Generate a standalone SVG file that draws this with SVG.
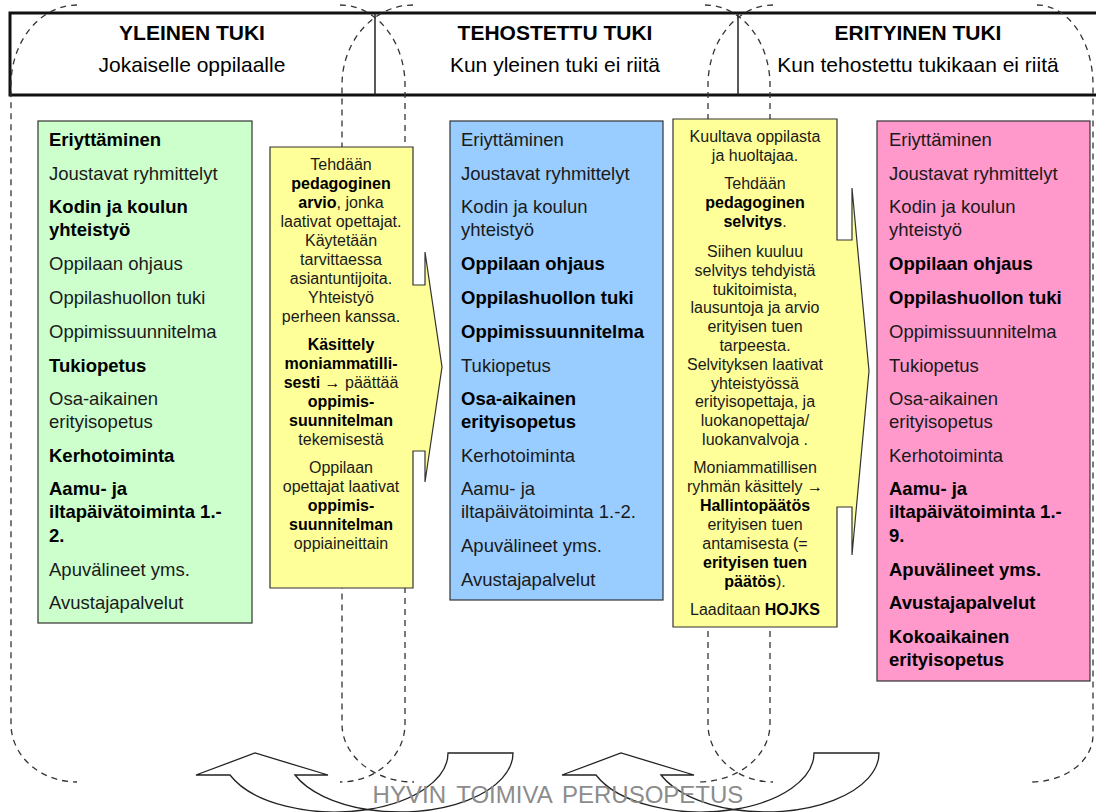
<svg xmlns="http://www.w3.org/2000/svg" width="1096" height="812" viewBox="0 0 1096 812">
<style>
text{font-family:"Liberation Sans",Arial,sans-serif;fill:#1a1a1a}
.h{font-size:21px;text-anchor:middle;fill:#000}
.hb{font-weight:bold}
.l{font-size:18.5px}
.b{font-weight:bold;fill:#000}
.y{font-size:16px;text-anchor:middle}
.dash{fill:none;stroke:#333;stroke-width:1.3;stroke-dasharray:6 5}
.box{stroke:#333;stroke-width:1.2}
.arr{fill:#fff;stroke:#222;stroke-width:1.3;stroke-linejoin:miter}
</style>
<rect x="0" y="0" width="1096" height="812" fill="#fff"/>

<g id="header">
  <rect x="10" y="13" width="1100" height="82" fill="#fff" stroke="#111" stroke-width="3"/>
  <line x1="375" y1="13" x2="375" y2="95" stroke="#222" stroke-width="1.5"/>
  <line x1="738" y1="13" x2="738" y2="95" stroke="#222" stroke-width="1.5"/>
  <text class="h hb" x="192" y="40">YLEINEN TUKI</text>
  <text class="h" x="192" y="72">Jokaiselle oppilaalle</text>
  <text class="h hb" x="555" y="40">TEHOSTETTU TUKI</text>
  <text class="h" x="555" y="72">Kun yleinen tuki ei riitä</text>
  <text class="h hb" x="918" y="40">ERITYINEN TUKI</text>
  <text class="h" x="918" y="72">Kun tehostettu tukikaan ei riitä</text>
</g>

<g id="frames">
  <path class="dash" d="M77,5 A66,80 0 0 0 11,85 L11,724 A66,58 0 0 0 77,782"/>
  <path class="dash" d="M340,5 A65,80 0 0 1 405,85 L405,724 A65,58 0 0 1 340,782"/>
  <path class="dash" d="M413,5 A71,80 0 0 0 342,85 L342,724 A72,58 0 0 0 414,782"/>
  <path class="dash" d="M705,5 A65,80 0 0 1 770,85 L770,724 A72,58 0 0 1 698,782"/>
  <path class="dash" d="M773,5 A65,80 0 0 0 708,85 L708,724 A65,58 0 0 0 773,782"/>
  <path class="dash" d="M1037,5 A56,80 0 0 1 1093,85 L1093,735 A62,47 0 0 1 1031,782"/>
</g>

<g id="yleinen">
  <rect class="box" x="38" y="121" width="214" height="502" fill="#ccffcc"/>
  <text class="l b" x="49" y="146">Eriyttäminen</text>
  <text class="l" x="49" y="180">Joustavat ryhmittelyt</text>
  <text class="l b" x="49" y="213">Kodin ja koulun</text>
  <text class="l b" x="49" y="236">yhteistyö</text>
  <text class="l" x="49" y="270">Oppilaan ohjaus</text>
  <text class="l" x="49" y="304">Oppilashuollon tuki</text>
  <text class="l" x="49" y="338">Oppimissuunnitelma</text>
  <text class="l b" x="49" y="372">Tukiopetus</text>
  <text class="l" x="49" y="405">Osa-aikainen</text>
  <text class="l" x="49" y="428">erityisopetus</text>
  <text class="l b" x="49" y="462">Kerhotoiminta</text>
  <text class="l b" x="49" y="495">Aamu- ja</text>
  <text class="l b" x="49" y="518">iltapäivätoiminta 1.-</text>
  <text class="l b" x="49" y="542">2.</text>
  <text class="l" x="49" y="576">Apuvälineet yms.</text>
  <text class="l" x="49" y="609">Avustajapalvelut</text>
</g>

<g id="arvio">
  <polygon class="box" fill="#ffff99" points="270,147 413,147 413,285 425,285 425,252 442,367 425,482 425,451 413,451 413,588 270,588"/>
  <text class="y" x="341" y="170">Tehdään</text>
  <text class="y b" x="341" y="189">pedagoginen</text>
  <text class="y" x="341" y="208"><tspan class="b">arvio</tspan>, jonka</text>
  <text class="y" x="341" y="227">laativat opettajat.</text>
  <text class="y" x="341" y="246">Käytetään</text>
  <text class="y" x="341" y="265">tarvittaessa</text>
  <text class="y" x="341" y="284">asiantuntijoita.</text>
  <text class="y" x="341" y="303">Yhteistyö</text>
  <text class="y" x="341" y="322">perheen kanssa.</text>
  <text class="y b" x="341" y="350">Käsittely</text>
  <text class="y b" x="341" y="369">moniammatilli-</text>
  <text class="y" x="341" y="388"><tspan class="b">sesti →</tspan> päättää</text>
  <text class="y b" x="341" y="407">oppimis-</text>
  <text class="y b" x="341" y="426">suunnitelman</text>
  <text class="y" x="341" y="445">tekemisestä</text>
  <text class="y" x="341" y="473">Oppilaan</text>
  <text class="y" x="341" y="492">opettajat laativat</text>
  <text class="y b" x="341" y="511">oppimis-</text>
  <text class="y b" x="341" y="530">suunnitelman</text>
  <text class="y" x="341" y="549">oppiaineittain</text>
</g>

<g id="tehostettu">
  <rect class="box" x="450" y="121" width="213" height="479" fill="#99ccff"/>
  <text class="l" x="461" y="146">Eriyttäminen</text>
  <text class="l" x="461" y="180">Joustavat ryhmittelyt</text>
  <text class="l" x="461" y="213">Kodin ja koulun</text>
  <text class="l" x="461" y="236">yhteistyö</text>
  <text class="l b" x="461" y="270">Oppilaan ohjaus</text>
  <text class="l b" x="461" y="304">Oppilashuollon tuki</text>
  <text class="l b" x="461" y="338">Oppimissuunnitelma</text>
  <text class="l" x="461" y="372">Tukiopetus</text>
  <text class="l b" x="461" y="405">Osa-aikainen</text>
  <text class="l b" x="461" y="428">erityisopetus</text>
  <text class="l" x="461" y="462">Kerhotoiminta</text>
  <text class="l" x="461" y="495">Aamu- ja</text>
  <text class="l" x="461" y="518">iltapäivätoiminta 1.-2.</text>
  <text class="l" x="461" y="552">Apuvälineet yms.</text>
  <text class="l" x="461" y="586">Avustajapalvelut</text>
</g>

<g id="selvitys">
  <polygon class="box" fill="#ffff99" points="673,119 837,119 837,240 852,240 852,188 869,371 852,555 852,507 837,507 837,627 673,627"/>
  <text class="y" x="755" y="142">Kuultava oppilasta</text>
  <text class="y" x="755" y="161">ja huoltajaa.</text>
  <text class="y" x="755" y="189">Tehdään</text>
  <text class="y b" x="755" y="208">pedagoginen</text>
  <text class="y" x="755" y="227"><tspan class="b">selvitys</tspan>.</text>
  <text class="y" x="755" y="257">Siihen kuuluu</text>
  <text class="y" x="755" y="276">selvitys tehdyistä</text>
  <text class="y" x="755" y="295">tukitoimista,</text>
  <text class="y" x="755" y="313">lausuntoja ja arvio</text>
  <text class="y" x="755" y="332">erityisen tuen</text>
  <text class="y" x="755" y="351">tarpeesta.</text>
  <text class="y" x="755" y="370">Selvityksen laativat</text>
  <text class="y" x="755" y="389">yhteistyössä</text>
  <text class="y" x="755" y="407">erityisopettaja, ja</text>
  <text class="y" x="755" y="426">luokanopettaja/</text>
  <text class="y" x="755" y="445">luokanvalvoja .</text>
  <text class="y" x="755" y="473">Moniammatillisen</text>
  <text class="y" x="755" y="492">ryhmän käsittely <tspan class="b">→</tspan></text>
  <text class="y b" x="755" y="511">Hallintopäätös</text>
  <text class="y" x="755" y="530">erityisen tuen</text>
  <text class="y" x="755" y="549">antamisesta (=</text>
  <text class="y b" x="755" y="568">erityisen tuen</text>
  <text class="y" x="755" y="587"><tspan class="b">päätös</tspan>).</text>
  <text class="y" x="755" y="615">Laaditaan <tspan class="b">HOJKS</tspan></text>
</g>

<g id="erityinen">
  <rect class="box" x="877" y="121" width="213" height="560" fill="#ff99cc"/>
  <text class="l" x="889" y="146">Eriyttäminen</text>
  <text class="l" x="889" y="180">Joustavat ryhmittelyt</text>
  <text class="l" x="889" y="213">Kodin ja koulun</text>
  <text class="l" x="889" y="236">yhteistyö</text>
  <text class="l b" x="889" y="270">Oppilaan ohjaus</text>
  <text class="l b" x="889" y="304">Oppilashuollon tuki</text>
  <text class="l" x="889" y="338">Oppimissuunnitelma</text>
  <text class="l" x="889" y="372">Tukiopetus</text>
  <text class="l" x="889" y="405">Osa-aikainen</text>
  <text class="l" x="889" y="428">erityisopetus</text>
  <text class="l" x="889" y="462">Kerhotoiminta</text>
  <text class="l b" x="889" y="495">Aamu- ja</text>
  <text class="l b" x="889" y="518">iltapäivätoiminta 1.-</text>
  <text class="l b" x="889" y="542">9.</text>
  <text class="l b" x="889" y="576">Apuvälineet yms.</text>
  <text class="l b" x="889" y="609">Avustajapalvelut</text>
  <text class="l b" x="889" y="643">Kokoaikainen</text>
  <text class="l b" x="889" y="666">erityisopetus</text>
</g>

<g id="connectors">
  <path class="arr" d="M230,775 A113,59 0 0 0 367.5,809.5 A113,59 0 0 0 513,753 L448,753 A113,59 0 0 1 367.5,809.5 A113,59 0 0 1 295,775 L328,775 L255,753 L196,775 Z"/>
  <path class="arr" d="M596,775 A113,59 0 0 0 733.5,809.5 A113,59 0 0 0 879,753 L814,753 A113,59 0 0 1 733.5,809.5 A113,59 0 0 1 661,775 L694,775 L621,753 L562,775 Z"/>
</g>

<g id="footer">
  <text x="558" y="803" font-size="24" text-anchor="middle" word-spacing="4" style="fill:#8c8c8c">HYVIN TOIMIVA PERUSOPETUS</text>
</g>
</svg>
